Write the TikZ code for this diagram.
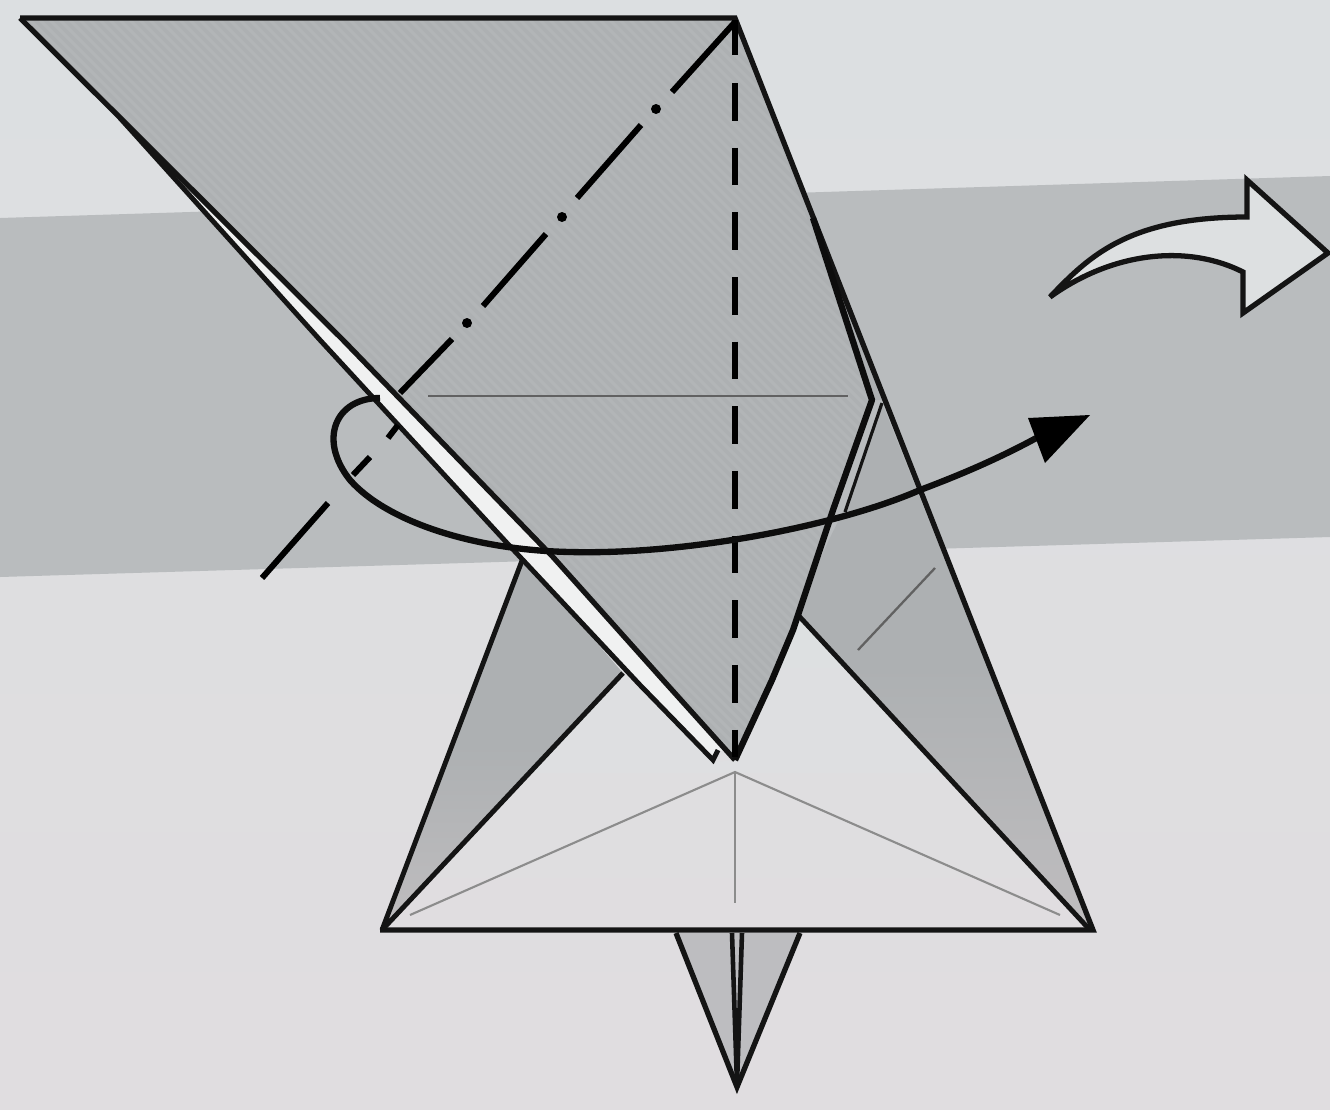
\documentclass[tikz,border=0pt]{standalone}
\usetikzlibrary{calc}
\definecolor{paperTop}{HTML}{DCDFE1}
\definecolor{paperLow}{HTML}{E0DDE0}
\definecolor{bandGray}{HTML}{B9BCBE}
\definecolor{foldGray}{HTML}{ADB0B2}
\definecolor{foldPale}{HTML}{BFBDBF}
\definecolor{flapLight}{HTML}{DDE0E1}
\definecolor{stripWhite}{HTML}{F0F1F1}
\definecolor{tipGray}{HTML}{BDBDC0}
\tikzset{
  ink/.style={draw=black!92,line width=3pt,line join=miter},
  heavy/.style={draw=black!95,line width=3.6pt,line join=round},
  hair/.style={draw=black!62,line width=1.3pt},
  crease/.style={draw=black!45,line width=1.2pt},
  fold/.style={draw=black,line width=3.4pt},
  dotfold/.style={fill=black}
}
\begin{document}
\begin{tikzpicture}[x=0.02cm,y=-0.02cm]
\useasboundingbox (0,0) rectangle (1330,1110);
% paper
\shade[top color=paperTop,bottom color=paperLow] (0,0) rectangle (1330,1110);
\fill[bandGray] (0,218) -- (1330,176) -- (1330,537) -- (0,577) -- cycle;
% lower base
\shade[top color=flapLight,bottom color=paperLow] (382,930) -- (1093,930) -- (798,615) -- (735,760) -- (715,762) -- (623,673) -- cycle;
\shade[top color=foldGray,bottom color=foldPale,middle color=foldGray] (523,558) -- (382,930) -- (623,673) -- cycle;
\shade[top color=foldGray,bottom color=foldPale,middle color=foldGray] (882,403) -- (1093,930) -- (798,615) -- (790,620) -- (845,507) -- cycle;
% main fold
\fill[foldGray] (20,18) -- (735,18) -- (884,400) -- (872,400) -- (833,510) -- (793,630) -- (772,680) -- (735,760) -- (663,680) -- (553,557) -- (343,340) -- cycle;
\begin{scope}
\clip (20,18) -- (735,18) -- (872,400) -- (833,510) -- (793,630) -- (772,680) -- (735,760) -- (663,680) -- (553,557) -- (343,340) -- cycle;
\foreach \k in {-800,-790,...,800}
  \draw[white,opacity=0.07,line width=1.8pt] (\k+400,0) -- (\k+1200,800);
\end{scope}
% white strip
\fill[stripWhite] (120,118) -- (343,340) -- (553,557) -- (663,680) -- (728,752) -- (718,750) -- (713,760) -- (640,685) -- (507,543) -- (320,340) -- cycle;
% tip
\fill[tipGray] (676,933) -- (800,933) -- (737,1087) -- cycle;
\draw[ink] (676,933) -- (737,1087) -- (800,933);
\draw[ink,line width=2.6pt] (732,933) -- (737,1085);
\draw[ink,line width=2.6pt] (742,933) -- (737,1085);
% thin creases
\draw[crease] (410,915) -- (735,772) -- (1060,915);
\draw[crease] (735,772) -- (735,903);
\draw[hair] (428,396) -- (848,396);
\draw[hair] (858,650) -- (935,568);
% outlines
\draw[ink] (20,18) -- (735,18) -- (1093,930) -- (380,930);
\draw[ink] (20,18) -- (343,340) -- (553,557) -- (663,680) -- (735,760);
\draw[ink,line width=2.8pt] (120,118) -- (320,340) -- (507,543) -- (640,685) -- (713,760) -- (718,750);
\draw[ink,line width=2.8pt,line join=bevel] (523,558) -- (382,930) -- (623,673);
\draw[ink,line width=2.8pt] (798,615) -- (1090,930);
\draw[heavy] (735,760) -- (772,680) -- (793,630) -- (833,510) -- (872,400) -- (813,218);
\draw[ink,line width=1.8pt] (845,512) -- (882,403);
% valley fold
\draw[fold] (735,20) -- (735,55);
\draw[fold,dash pattern=on 21.5pt off 15.3pt] (735,83) -- (735,757);
% mountain fold
\draw[fold] (735,22) -- (672,92);
\fill[dotfold] (656,109) circle (5);
\draw[fold] (641,125) -- (577,198);
\fill[dotfold] (562,217) circle (5);
\draw[fold] (546,234) -- (483,306);
\fill[dotfold] (467,323) circle (5);
\draw[fold] (452,339) -- (400,393);
\draw[fold] (398,425) -- (388,438);
\draw[fold] (370,457) -- (353,475);
\draw[fold] (328,503) -- (262,578);
% action arrow
\draw[heavy] (380,398) .. controls (335,398) and (318,440) .. (350,480)
  .. controls (385,520) and (470,550) .. (570,552)
  .. controls (690,555) and (840,525) .. (920,490)
  .. controls (960,475) and (1000,458) .. (1040,436);
\fill[black] (1090,415) -- (1028,418) -- (1045,463) -- cycle;
% open arrow
\filldraw[ink,fill=flapLight] (1050,297)
  .. controls (1090,255) and (1130,217) .. (1247,217)
  -- (1247,180) -- (1328,253) -- (1243,313) -- (1243,272)
  .. controls (1190,245) and (1115,250) .. (1050,297)
  -- cycle;
\end{tikzpicture}
\end{document}
